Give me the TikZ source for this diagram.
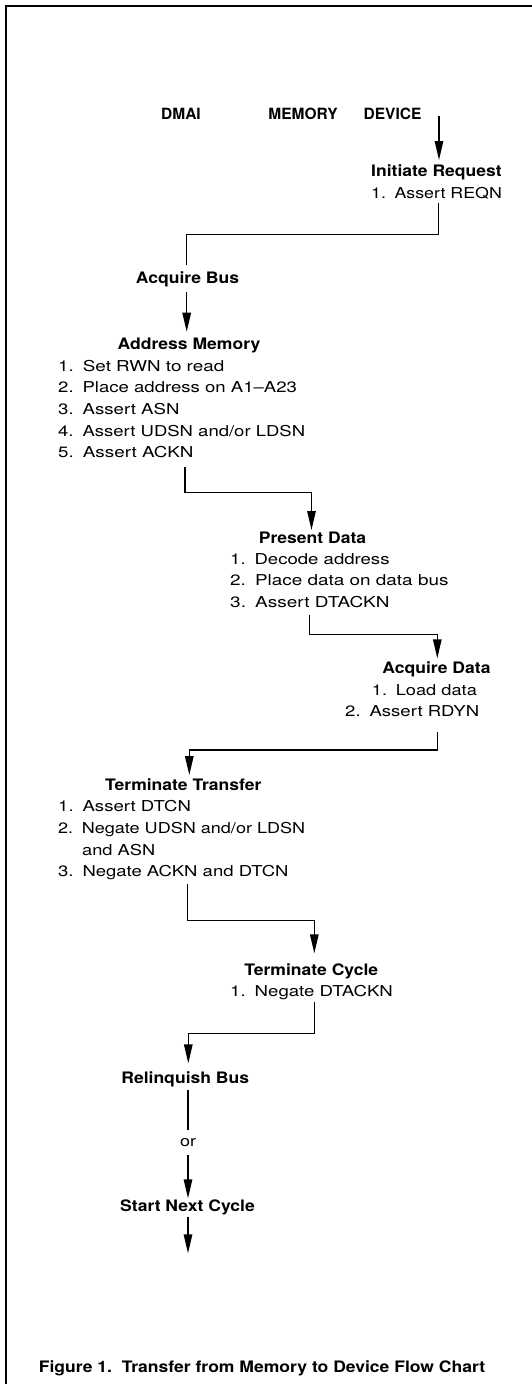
\documentclass[tikz,border=0pt]{standalone}
\usepackage{graphicx}
\usepackage{fontspec}
\setmainfont{TeX Gyre Heros}
\newfontfamily\boldf{TeX Gyre Heros}[FakeStretch=1.11]
\usetikzlibrary{arrows.meta}
\newcommand\itemno[1]{\makebox[19.7pt][l]{#1}}
\newcommand\rline[2]{\resizebox{#1pt}{\height}{#2}}
\begin{document}
\begin{tikzpicture}[x=1pt,y=-1pt,
  ttl/.style={font=\boldf\bfseries\fontsize{15.8}{19}\selectfont, inner sep=0pt, anchor=base},
  hdr/.style={font=\bfseries\fontsize{15.5}{19}\selectfont, inner sep=0pt, anchor=base},
  itm/.style={font=\fontsize{15}{19}\selectfont, inner sep=0pt, anchor=base west},
  conn/.style={line width=1.4pt},
  flowarrow/.style={line width=1.4pt, -{Triangle[length=19pt,width=8.5pt]}}]
\useasboundingbox (0,0) rectangle (532,1384);
\fill[white] (0,0) rectangle (532,1384);
\draw[line width=2pt] (6,1384) -- (6,6) -- (532,6);
% headers
\node[hdr] (hdmai) at (181,119) {DMAI};
\node[hdr] (hmem) at (303,119) {MEMORY};
\node[hdr] (hdev) at (392.5,119) {DEVICE};
% Initiate request
\node[ttl,anchor=base west] (ir) at (371,176) {Initiate Request};
\node[itm] (ir1) at (371,198) {\rline{130.7}{\itemno{1.}Assert REQN}};
% Acquire bus
\node[ttl,anchor=base east] (ab) at (239.3,283) {Acquire Bus};
% Address memory
\node[ttl] (am) at (189,349) {Address Memory};
\node[itm] (am1) at (58,371) {\rline{166}{\itemno{1.}Set RWN to read}};
\node[itm] (am2) at (58,392.7) {\rline{238.7}{\itemno{2.}Place address on A1–A23}};
\node[itm] (am3) at (58,414.3) {\rline{121.3}{\itemno{3.}Assert ASN}};
\node[itm] (am4) at (58,436) {\rline{247}{\itemno{4.}Assert UDSN and/or LDSN}};
\node[itm] (am5) at (58,457.7) {\rline{135.3}{\itemno{5.}Assert ACKN}};
% Present data
\node[ttl] (pd) at (312.5,543.3) {Present Data};
\node[itm] (pd1) at (230,564) {\rline{159.3}{\itemno{1.}Decode address}};
\node[itm] (pd2) at (230,585.7) {\rline{218.3}{\itemno{2.}Place data on data bus}};
\node[itm] (pd3) at (230,607.3) {\rline{159.3}{\itemno{3.}Assert DTACKN}};
% Acquire data
\node[ttl] (ad) at (436.5,673.3) {Acquire Data};
\node[itm] (ad1) at (371.7,695) {\rline{105}{\itemno{1.}Load data}};
\node[itm] (ad2) at (345,716.7) {\rline{134}{\itemno{2.}Assert RDYN}};
% Terminate transfer
\node[ttl,anchor=base east] (tt) at (261.7,790) {Terminate Transfer};
\node[itm] (tt1) at (58,811.7) {\rline{132.7}{\itemno{1.}Assert DTCN}};
\node[itm] (tt2) at (58,833.3) {\rline{247}{\itemno{2.}Negate UDSN and/or LDSN}};
\node[itm] (tt2b) at (58,855) {\rline{97}{\itemno{}and ASN}};
\node[itm] (tt3) at (58,876.7) {\rline{230.3}{\itemno{3.}Negate ACKN and DTCN}};
% Terminate cycle
\node[ttl] (tc) at (311.3,975) {Terminate Cycle};
\node[itm] (tc1) at (230,996.7) {\rline{162.7}{\itemno{1.}Negate DTACKN}};
% Relinquish / or / start next
\node[ttl,anchor=base east] (rb) at (249.3,1083.3) {Relinquish Bus};
\node[itm,anchor=base] (or) at (188,1146.7) {\rline{16}{or}};
\node[ttl,anchor=base east] (snc) at (255,1211.7) {Start Next Cycle};
% caption
\node[ttl] (cap) at (262,1372) {Figure 1.\ \ Transfer from Memory to Device Flow Chart};
% connector coordinates
\coordinate (s0) at (439,116);
\coordinate (e0) at (439,160);
\coordinate (s1) at (438.7,203);
\coordinate (b1) at (186.7,234.3);
\coordinate (e1) at (186.7,265);
\coordinate (s2) at (186.7,291.7);
\coordinate (e2) at (186.7,331.7);
\coordinate (s3) at (185,466.7);
\coordinate (b3) at (311.5,492.7);
\coordinate (e3) at (311.5,530);
\coordinate (s4) at (309.3,615);
\coordinate (b4) at (437.3,634.3);
\coordinate (e4) at (437.3,658.3);
\coordinate (s5) at (437.3,731.7);
\coordinate (b5) at (189.3,750);
\coordinate (e5) at (189.3,775);
\coordinate (s6) at (187.3,884);
\coordinate (b6) at (314.3,920.7);
\coordinate (e6) at (314.3,953.3);
\coordinate (s7) at (314.3,1001.7);
\coordinate (b7) at (188.3,1033.3);
\coordinate (e7) at (188.3,1063.3);
\coordinate (s8) at (188,1090);
\coordinate (e8) at (188,1130);
\coordinate (s9) at (188,1155);
\coordinate (e9) at (188,1198.3);
\coordinate (s10) at (188,1216.7);
\coordinate (e10) at (188,1253.3);
% connectors
\draw[flowarrow] (s0) -- (e0);
\draw[conn] (s1) |- (b1) -- (e1);
\draw[flowarrow] (s2) -- (e2);
\draw[flowarrow] (s3) |- (b3) -- (e3);
\draw[flowarrow] (s4) |- (b4) -- (e4);
\draw[flowarrow] (s5) |- (b5) -- (e5);
\draw[flowarrow] (s6) |- (b6) -- (e6);
\draw[flowarrow] (s7) |- (b7) -- (e7);
\draw[conn] (s8) -- (e8);
\draw[flowarrow] (s9) -- (e9);
\draw[flowarrow] (s10) -- (e10);
\end{tikzpicture}
\end{document}
